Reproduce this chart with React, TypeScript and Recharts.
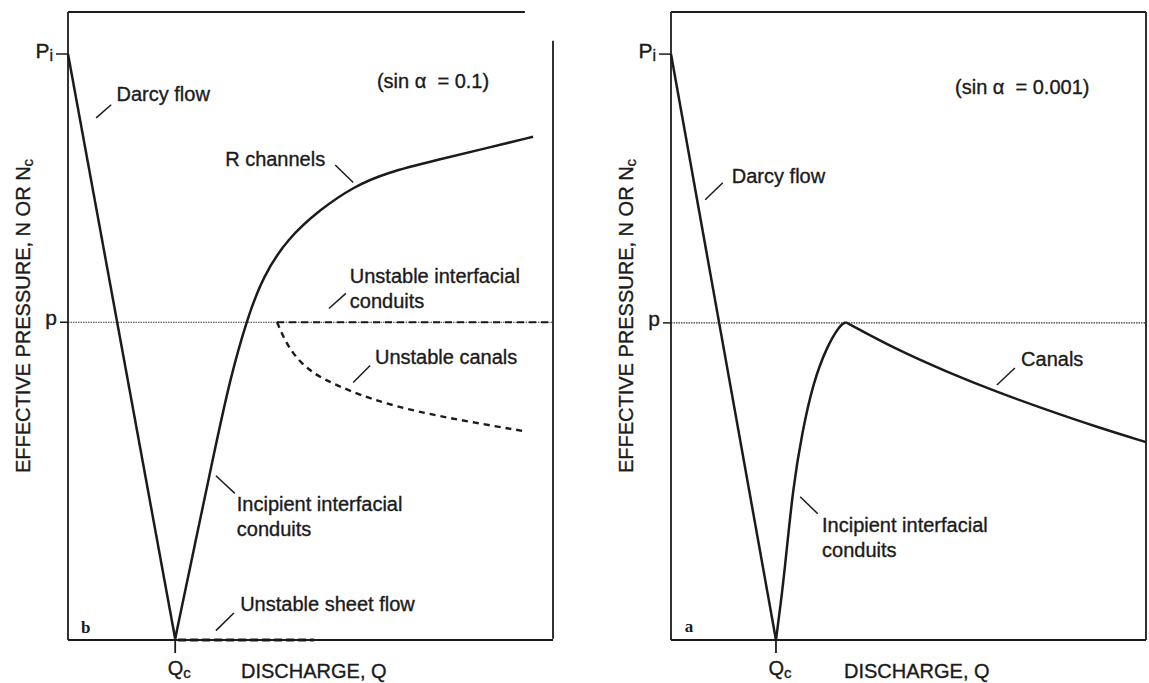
import React from "react";
import { LineChart, Line, XAxis, YAxis, ReferenceLine, ReferenceDot } from "recharts";

const FONT = '"Liberation Sans", Arial, Helvetica, sans-serif';
const INK = "#1b1b1b";

// levels in data units (0 = bottom of the box, 100 = top)
const P_LEVEL = 50.5;
const PI_LEVEL = 93.3;
const QC = 22.1;

const yTickValues = [P_LEVEL, PI_LEVEL];
const yTickNames = ["p", "P"];
const yTickSubs = ["", "i"];
const xTickValues = [QC];
const xTickNames = ["Q"];
const xTickSubs = ["c"];

// ---- panel b (sin α = 0.1) ----
const bDarcy = [
  { x: 0, y: 93.3 },
  { x: 22.1, y: 0 },
];
const bRChannels = [
  { x: 22.1, y: 0 },
  { x: 26.2, y: 15.2 },
  { x: 30.3, y: 30.3 },
  { x: 33.4, y: 41.4 },
  { x: 36.9, y: 51.0 },
  { x: 40.2, y: 57.8 },
  { x: 45.2, y: 63.8 },
  { x: 52.0, y: 68.5 },
  { x: 58.8, y: 72.1 },
  { x: 65.8, y: 74.4 },
  { x: 76.1, y: 76.4 },
  { x: 86.4, y: 78.3 },
  { x: 95.9, y: 80.1 },
];
const bUnstableConduits = [
  { x: 43.1, y: 50.5 },
  { x: 100, y: 50.5 },
];
const bUnstableCanals = [
  { x: 43.1, y: 50.5 },
  { x: 44.6, y: 47.8 },
  { x: 46.6, y: 45.2 },
  { x: 50.0, y: 42.6 },
  { x: 54.0, y: 40.9 },
  { x: 62.3, y: 38.2 },
  { x: 72.6, y: 36.1 },
  { x: 82.9, y: 34.6 },
  { x: 94.2, y: 33.1 },
];
const bSheetFlow = [
  { x: 22.7, y: -0.2 },
  { x: 50.7, y: -0.2 },
];
const bBoxTop = [
  { x: 0, y: 100 },
  { x: 94.2, y: 100 },
];
const bBoxRight = [
  { x: 100, y: 95.4 },
  { x: 100, y: 0 },
];
const bNotes = [
  { x: 10.0, y: 86.9, lines: ["Darcy flow"] },
  { x: 63.7, y: 89.0, lines: ["(sin α  = 0.1)"] },
  { x: 32.4, y: 76.6, lines: ["R channels"] },
  { x: 58.1, y: 57.8, lines: ["Unstable interfacial", "conduits"] },
  { x: 63.3, y: 44.9, lines: ["Unstable canals"] },
  { x: 34.8, y: 21.5, lines: ["Incipient interfacial", "conduits"] },
  { x: 35.5, y: 5.6, lines: ["Unstable sheet flow"] },
];
const bLeaders = [
  [{ x: 5.8, y: 83.1 }, { x: 8.9, y: 85.2 }],
  [{ x: 55.1, y: 75.6 }, { x: 58.8, y: 72.8 }],
  [{ x: 53.8, y: 52.7 }, { x: 57.3, y: 55.1 }],
  [{ x: 58.8, y: 40.9 }, { x: 62.3, y: 43.6 }],
  [{ x: 30.5, y: 26.0 }, { x: 34.4, y: 23.2 }],
  [{ x: 30.5, y: 1.3 }, { x: 34.2, y: 4.1 }],
];
const bPanelTag = { x: 2.7, y: 1.8, text: "b" };

// ---- panel a (sin α = 0.001) ----
const aDarcy = [
  { x: 0, y: 93.3 },
  { x: 22.1, y: 0 },
];
const aIncipient = [
  { x: 22.1, y: 0 },
  { x: 23.1, y: 5.8 },
  { x: 24.0, y: 11.6 },
  { x: 25.7, y: 24.4 },
  { x: 27.6, y: 33.0 },
  { x: 29.9, y: 40.9 },
  { x: 32.8, y: 46.7 },
  { x: 35.6, y: 50.2 },
  { x: 36.8, y: 50.6 },
];
const aCanals = [
  { x: 36.8, y: 50.6 },
  { x: 47.6, y: 46.2 },
  { x: 58.1, y: 42.7 },
  { x: 68.6, y: 39.5 },
  { x: 79.2, y: 36.6 },
  { x: 89.7, y: 33.9 },
  { x: 100, y: 31.5 },
];
const aBoxTop = [
  { x: 0, y: 100 },
  { x: 100, y: 100 },
];
const aBoxRight = [
  { x: 100, y: 100 },
  { x: 100, y: 0 },
];
const aNotes = [
  { x: 59.8, y: 88.1, lines: ["(sin α  = 0.001)"] },
  { x: 12.8, y: 73.9, lines: ["Darcy flow"] },
  { x: 73.7, y: 44.7, lines: ["Canals"] },
  { x: 31.8, y: 18.3, lines: ["Incipient interfacial", "conduits"] },
];
const aLeaders = [
  [{ x: 7.2, y: 70.1 }, { x: 10.9, y: 72.8 }],
  [{ x: 68.6, y: 40.6 }, { x: 72.4, y: 43.3 }],
  [{ x: 27.2, y: 22.8 }, { x: 30.9, y: 20.1 }],
];
const aPanelTag = { x: 2.9, y: 2.1, text: "a" };

// ---------- renderers ----------
const TEXT_STROKE = { stroke: INK, strokeWidth: 0.35 };

const YTick = (props: any) => {
  const { x, y, payload } = props;
  const i = yTickValues.indexOf(payload.value);
  const len = i === 1 ? 12 : 8;
  return (
    <g>
      <line x1={x - len} y1={y} x2={x} y2={y} stroke={INK} strokeWidth={1.5} />
      <text
        x={x - len - 3}
        y={y + (i === 1 ? 4 : 3)}
        textAnchor="end"
        fontFamily={FONT}
        fontSize={21}
        fill={INK}
        {...TEXT_STROKE}
      >
        {yTickNames[i]}
        {yTickSubs[i] ? (
          <tspan fontSize={16} dy={3}>
            {yTickSubs[i]}
          </tspan>
        ) : null}
      </text>
    </g>
  );
};

const XTick = (props: any) => {
  const { x, y, payload } = props;
  const i = xTickValues.indexOf(payload.value);
  return (
    <g>
      <line x1={x} y1={y} x2={x} y2={y + 13} stroke={INK} strokeWidth={1.8} />
      <text
        x={x + 4}
        y={y + 35}
        textAnchor="middle"
        fontFamily={FONT}
        fontSize={20}
        fill={INK}
        {...TEXT_STROKE}
      >
        {xTickNames[i]}
        <tspan fontSize={15} dy={3}>
          {xTickSubs[i]}
        </tspan>
      </text>
    </g>
  );
};

const yTitle = (props: any) => {
  const vb = props.viewBox || {};
  const cx = vb.x + vb.width - 45;
  const cy = vb.y + vb.height / 2 - 10;
  return (
    <text
      x={cx}
      y={cy}
      transform={`rotate(-90 ${cx} ${cy})`}
      textAnchor="middle"
      dominantBaseline="central"
      fontFamily={FONT}
      fontSize={20}
      fill={INK}
      {...TEXT_STROKE}
    >
      EFFECTIVE PRESSURE, N OR N
      <tspan fontSize={15} dy={4}>
        c
      </tspan>
    </text>
  );
};

const xTitle = (props: any) => {
  const vb = props.viewBox || {};
  return (
    <text x={vb.x + 173} y={vb.y + 38} fontFamily={FONT} fontSize={20} fill={INK} {...TEXT_STROKE}>
      DISCHARGE, Q
    </text>
  );
};

const noteContent = (lines: string[]) => (props: any) => {
  const vb = props.viewBox || {};
  return (
    <text
      fontFamily={FONT}
      fontSize={20}
      fill={INK}
      dominantBaseline="central"
      style={{ whiteSpace: "pre" }}
      {...TEXT_STROKE}
    >
      {lines.map((l, i) => (
        <tspan key={i} x={vb.x} y={vb.y + i * 25}>
          {l}
        </tspan>
      ))}
    </text>
  );
};

const tagContent = (t: string) => (props: any) => {
  const vb = props.viewBox || {};
  return (
    <text
      x={vb.x}
      y={vb.y}
      dominantBaseline="central"
      fontFamily='"Liberation Serif", "DejaVu Serif", serif'
      fontWeight="bold"
      fontSize={17}
      fill={INK}
    >
      {t}
    </text>
  );
};

type Curve = { data: { x: number; y: number }[]; dash?: string; width?: number; kind?: string };
type Panel = {
  curves: Curve[];
  boxTop: { x: number; y: number }[];
  boxRight: { x: number; y: number }[];
  notes: { x: number; y: number; lines: string[] }[];
  leaders: { x: number; y: number }[][];
  tag: { x: number; y: number; text: string };
};

const renderPanel = (p: Panel, width: number, yAxisWidth: number, rightMargin: number) => (
  <LineChart width={width} height={683} margin={{ top: 12, right: rightMargin, left: 0, bottom: 0 }}>
    <XAxis
      type="number"
      dataKey="x"
      domain={[0, 100]}
      ticks={xTickValues}
      tick={XTick}
      tickLine={false}
      tickSize={0}
      tickMargin={0}
      height={43}
      axisLine={{ stroke: INK, strokeWidth: 1.8 }}
      label={{ content: xTitle }}
    />
    <YAxis
      type="number"
      dataKey="y"
      domain={[0, 100]}
      ticks={yTickValues}
      tick={YTick}
      tickLine={false}
      tickSize={0}
      tickMargin={0}
      width={yAxisWidth}
      axisLine={{ stroke: INK, strokeWidth: 1.8 }}
      label={{ content: yTitle }}
    />
    <ReferenceLine y={P_LEVEL} stroke="#3a3a3a" strokeWidth={1.2} strokeDasharray="1.5 1" />
    <ReferenceLine segment={p.boxTop} stroke={INK} strokeWidth={1.8} ifOverflow="visible" />
    <ReferenceLine segment={p.boxRight} stroke={INK} strokeWidth={1.8} ifOverflow="visible" />
    {p.leaders.map((seg, i) => (
      <ReferenceLine key={"l" + i} segment={seg} stroke={INK} strokeWidth={1.5} ifOverflow="visible" />
    ))}
    {p.curves.map((c, i) => (
      <Line
        key={"c" + i}
        data={c.data}
        dataKey="y"
        type={(c.kind as any) ?? "linear"}
        stroke={INK}
        strokeWidth={c.width ?? 2.5}
        strokeDasharray={c.dash}
        dot={false}
        activeDot={false}
        isAnimationActive={false}
      />
    ))}
    {p.notes.map((n, i) => (
      <ReferenceDot
        key={"n" + i}
        x={n.x}
        y={n.y}
        r={0}
        fill="none"
        stroke="none"
        ifOverflow="visible"
        label={{ content: noteContent(n.lines) }}
      />
    ))}
    <ReferenceDot
      x={p.tag.x}
      y={p.tag.y}
      r={0}
      fill="none"
      stroke="none"
      ifOverflow="visible"
      label={{ content: tagContent(p.tag.text) }}
    />
  </LineChart>
);

const panelB: Panel = {
  curves: [
    { data: bDarcy },
    { data: bRChannels, kind: "basis" },
    { data: bUnstableConduits, dash: "7 5", width: 2.2 },
    { data: bUnstableCanals, dash: "6 5", width: 2.4, kind: "basis" },
    { data: bSheetFlow, dash: "8 4", width: 3 },
  ],
  boxTop: bBoxTop,
  boxRight: bBoxRight,
  notes: bNotes,
  leaders: bLeaders,
  tag: bPanelTag,
};

const panelA: Panel = {
  curves: [
    { data: aDarcy },
    { data: aIncipient, kind: "basis" },
    { data: aCanals, kind: "basis" },
  ],
  boxTop: aBoxTop,
  boxRight: aBoxRight,
  notes: aNotes,
  leaders: aLeaders,
  tag: aPanelTag,
};

export default function App() {
  return (
    <div
      style={{
        position: "absolute",
        left: 0,
        top: 0,
        width: 1149,
        height: 683,
        background: "#ffffff",
        overflow: "hidden",
      }}
    >
      <div style={{ position: "absolute", left: 0, top: 0 }}>{renderPanel(panelB, 580, 68, 27)}</div>
      <div style={{ position: "absolute", left: 580, top: 0 }}>{renderPanel(panelA, 569, 91, 3)}</div>
    </div>
  );
}
